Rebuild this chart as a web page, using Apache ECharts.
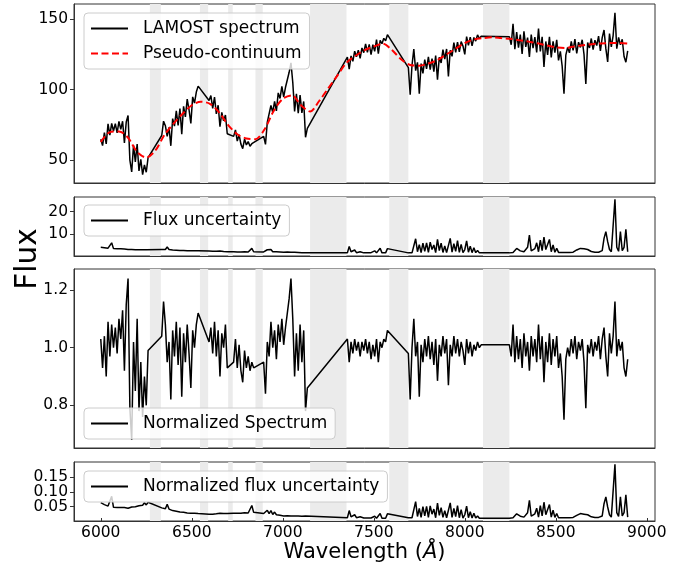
<!DOCTYPE html>
<html><head><meta charset="utf-8">
<script src="https://cdn.jsdelivr.net/npm/echarts@6/dist/echarts.min.js"></script>
<style>html,body{margin:0;padding:0;background:#fff}#c{width:695px;height:571px}</style>
</head><body><div id="c"></div>
<script>
// ---- wavelength sampling: start of each observed segment (Angstrom), 10 A steps ----
const segStart = [6000, 6335, 6595, 6730, 6895, 7355, 7690, 8245];
const step = 10;

// masked regions (grey bands)
const bands = [[6270,6330],[6545,6590],[6700,6725],[6850,6890],[7150,7350],[7585,7690],[8100,8245]];

// LAMOST spectrum flux, per segment
const lamostFlux = [
  [65,60.5,69.7,61.7,75.8,67.9,76.1,70.8,76.0,69.4,77.6,71.9,77.7,62.4,77.1,81.8,50.2,41.8,60.7,48.9,61.6,42.5,50.8,39.9,46.8,41.6,52.0],
  [67.6,77.7,74.5,67.0,73.4,60.3,79.5,74.2,85.0,74.7,86.7,68.5,88.2,80.8,93.4,85.8,76.1,94.9,90.5,98.3,102.5],
  [92.3,95.8,86.7,94.8,82.9,89.0,73.8,84.0,78.0,82.1,68.8],
  [67.0,71.6,63.7,68.2,61.5,58.3,65.1,60.9,63.3,60.0,61.8,60.5],
  [67.0,61.3,77.0,76.1,88.8,84.0,91.7,85.0,97.7,93.8,102.3,94.9,101.7,107.0,112.3,119.0,105.1,84.6,97.1,83.3,96.1,83.6,91.7,66.3,72.7],
  [123.1,114.5,123.9,120.1,127.2,123.3,128.0,122.2,129.5,126.2,132.4,126.4,132.1,124.8,131.8,127.1,135.4,125.4,134.9,132.5,136.3,134.6,138.9],
  [115.6,96.4,117.3,128.8,113.5,119.3,97.1,118.4,111.6,121.3,114.7,123.2,114.2,121.9,112.8,124.1,107.1,123.0,118.9,128.3,121.7,128.8,109.4,127.9,123.6,133.3,126.4,133.7,126.7,134.0,130.9,125.0,137.5,131.3,137.2,131.0,136.9,134.4,138.7,136.2,137.8],
  [137.4,131.8,146.6,128.7,140.7,129.7,138.9,125.3,141.2,130.3,136.8,123.2,139.0,129.4,137.2,126.4,143.3,127.1,137.4,116.0,134.1,124.6,137.4,122.8,134.2,126.2,135.2,120.7,127.1,116.6,97.1,124.4,129.8,126.1,134.1,127.8,135.8,125.6,133.6,129.9,135.3,125.0,104.1,133.3,129.5,136.2,128.3,135.0,131.2,137.9,127.4,136.8,142.2,129.0,119.7,139.7,130.3,138.3,154.3,129.0,137.0,131.7,135.6,123.5,119.4,127.5]
];

// pseudo-continuum
const contWave = [6000,6050,6100,6150,6200,6250,6300,6350,6400,6450,6500,6550,6600,6650,6700,6750,6800,6850,6900,6950,7000,7050,7100,7150,7200,7250,7300,7350,7400,7450,7500,7550,7600,7650,7700,7750,7800,7850,7900,7950,8000,8050,8100,8150,8200,8250,8300,8350,8400,8450,8500,8550,8600,8650,8700,8750,8800,8850,8895];
const contFlux = [63,70,70.5,66,56,52,57,68,76,83,89,91.5,90,84,75,68.5,65.5,65,72,85,93.5,96,89,84.5,92,101,110,119,124,128,130.5,132.5,128,121.5,117.5,117,118.5,121,125,129,133,135.5,136.5,137,136.5,136,135,134,132.8,131.3,130,129.5,130.5,131.5,132.2,132.7,133,133,132.6];

// flux uncertainty
const fluxErr = [
  [4.0,3.9,3.8,3.7,3.6,3.5,6.0,3.4,3.3,3.3,3.2,3.3,3.6,3.2,3.1,3.0,3.1,3.0,2.9,2.9,3.0,2.9,3.1,2.9,3.3,2.9,3.4],
  [3.0,2.9,3.0,4.1,3.0,2.8,2.8,2.7,2.7,2.8,2.6,2.7,2.6,2.8,2.5,2.6,2.5,2.8,2.5,2.4,2.5],
  [2.3,2.3,2.2,2.3,2.2,2.2,2.3,2.1,2.1,2.2,2.0],
  [2.0,2.0,1.9,2.0,1.9,1.9,2.0,1.9,1.9,2.0,3.5,2.0],
  [1.9,2.4,2.9,2.1,3.0,2.0,2.8,2.0,2.3,1.9,1.9,1.8,1.8,1.9,1.8,1.8,1.7,1.8,1.7,1.7,1.7,1.6,1.7,1.6,1.6],
  [1.5,4.4,2.0,1.6,2.8,1.6,1.5,2.0,1.5,1.5,2.3,1.5,1.5,1.6,1.5,2.4,1.5,1.6,3.6,1.5,1.5,1.5,3.4],
  [1.5,1.6,1.5,1.6,7.8,2.0,5.2,1.6,5.9,2.2,6.0,1.7,6.3,3.0,5.0,1.6,7.5,2.5,5.8,1.7,4.6,1.6,1.7,8.0,1.8,5.6,2.2,7.0,1.7,5.3,1.6,3.0,6.9,1.8,4.5,1.6,3.8,1.6,2.6,1.5,1.5],
  [1.5,1.6,1.7,2.2,3.5,4.0,2.4,1.8,2.0,1.7,4.0,9.5,2.4,1.8,3.4,6.0,2.0,7.2,2.5,8.6,3.0,2.2,7.5,2.0,5.0,1.8,3.5,1.7,1.6,1.7,1.6,1.7,1.6,1.7,1.9,1.8,2.2,2.8,3.3,3.5,2.9,3.3,3.5,3.0,2.4,2.1,1.9,1.8,1.9,1.8,2.0,2.5,8.0,11.0,6.5,3.0,2.0,1.8,25.5,4.0,2.2,11.0,2.5,4.0,12.0,2.0]
];

// normalized spectrum
const normFlux = [
  [1.03,0.93,1.04,0.90,1.09,0.97,1.08,1.00,1.07,0.98,1.10,1.03,1.13,0.92,1.15,1.24,0.79,0.68,1.02,0.85,1.10,0.78,0.95,0.76,0.90,0.80,0.99],
  [1.04,1.16,1.08,0.95,1.02,0.82,1.06,0.97,1.09,0.94,1.07,0.83,1.05,0.95,1.08,0.98,0.86,1.06,1.00,1.08,1.12],
  [1.02,1.07,0.98,1.09,0.97,1.06,0.90,1.05,1.00,1.08,0.93],
  [0.95,1.03,0.93,1.01,0.92,0.88,0.99,0.93,0.97,0.92,0.95,0.93],
  [0.95,0.84,1.02,0.97,1.09,1.00,1.06,0.96,1.08,1.02,1.10,1.01,1.07,1.12,1.17,1.24,1.10,0.90,1.05,0.92,1.08,0.95,1.06,0.78,0.86],
  [1.03,0.95,1.02,0.98,1.03,0.99,1.02,0.97,1.02,0.99,1.03,0.98,1.02,0.96,1.01,0.97,1.03,0.95,1.02,1.00,1.03,1.02,1.06],
  [0.98,0.82,1.00,1.10,0.97,1.02,0.83,1.01,0.95,1.03,0.97,1.04,0.96,1.02,0.94,1.03,0.885,1.01,0.97,1.04,0.98,1.03,0.87,1.01,0.97,1.04,0.98,1.03,0.97,1.02,0.99,0.94,1.03,0.98,1.02,0.97,1.01,0.99,1.02,1.00,1.01],
  [1.01,0.97,1.08,0.95,1.04,0.96,1.03,0.93,1.05,0.97,1.02,0.92,1.04,0.97,1.03,0.95,1.08,0.96,1.04,0.88,1.02,0.95,1.05,0.94,1.03,0.97,1.04,0.93,0.98,0.90,0.75,0.96,1.00,0.97,1.03,0.98,1.04,0.96,1.02,0.99,1.03,0.95,0.79,1.01,0.98,1.03,0.97,1.02,0.99,1.04,0.96,1.03,1.07,0.97,0.90,1.05,0.98,1.04,1.16,0.97,1.03,0.99,1.02,0.93,0.90,0.96]
];

// normalized flux uncertainty
const normErr = [
  [0.0635,0.060,0.057,0.054,0.052,0.050,0.085,0.048,0.046,0.047,0.045,0.047,0.052,0.047,0.046,0.045,0.049,0.049,0.049,0.050,0.054,0.053,0.058,0.055,0.063,0.056,0.065],
  [0.046,0.043,0.043,0.058,0.042,0.038,0.037,0.035,0.035,0.035,0.032,0.033,0.031,0.033,0.029,0.030,0.028,0.031,0.028,0.026,0.027],
  [0.025,0.026,0.025,0.026,0.026,0.026,0.028,0.026,0.027,0.029,0.027],
  [0.028,0.029,0.028,0.030,0.028,0.029,0.030,0.029,0.029,0.031,0.054,0.031],
  [0.027,0.033,0.038,0.027,0.037,0.024,0.032,0.023,0.025,0.021,0.020,0.019,0.019,0.020,0.019,0.019,0.018,0.019,0.018,0.019,0.019,0.018,0.020,0.019,0.019],
  [0.013,0.037,0.016,0.013,0.023,0.013,0.012,0.016,0.012,0.012,0.018,0.012,0.012,0.012,0.011,0.018,0.011,0.012,0.027,0.011,0.011,0.011,0.026],
  [0.013,0.014,0.013,0.014,0.067,0.017,0.044,0.014,0.050,0.019,0.051,0.014,0.053,0.025,0.042,0.013,0.062,0.021,0.047,0.014,0.037,0.013,0.014,0.063,0.014,0.044,0.017,0.054,0.013,0.040,0.012,0.023,0.052,0.013,0.033,0.012,0.028,0.012,0.019,0.011,0.011],
  [0.011,0.012,0.013,0.016,0.026,0.030,0.018,0.013,0.015,0.013,0.030,0.071,0.018,0.013,0.026,0.045,0.015,0.054,0.019,0.065,0.023,0.017,0.057,0.015,0.038,0.014,0.027,0.013,0.012,0.013,0.012,0.013,0.012,0.013,0.015,0.014,0.017,0.021,0.025,0.027,0.022,0.025,0.027,0.023,0.018,0.016,0.014,0.014,0.014,0.014,0.015,0.019,0.060,0.083,0.049,0.023,0.015,0.014,0.192,0.030,0.017,0.083,0.019,0.030,0.090,0.015]
];

// axis ticks
const xTicks = [6000,6500,7000,7500,8000,8500,9000];
const yTicks = [[50,100,150],[10,20],[0.8,1.0,1.2],[0.05,0.10,0.15]];
const yRanges = [[34,160.6],[0.1,26.5],[0.652,1.273],[0.002,0.2]];
const yDigits = [0,0,1,2];
const xRange = [5853,9045];

function build(segs){
  const out=[];
  segs.forEach((vals,s)=>vals.forEach((v,i)=>out.push([segStart[s]+i*step, v])));
  return out;
}

const FONT = 'DejaVu Sans';
const LEFT = 74;
const gridBoxes = [[4,179],[197,59],[269,179],[462,59]];
const grids = gridBoxes.map(g=>({left:LEFT,right:40,top:g[0],height:g[1],show:true,borderColor:'#333',borderWidth:1,backgroundColor:'transparent'}));

const xAxes = gridBoxes.map((g,i)=>({
  type:'value', gridIndex:i, min:xRange[0], max:xRange[1],
  axisLine:{show:true,lineStyle:{color:'#333',width:1}},
  splitLine:{show:false},
  axisTick:{show:i===3,inside:true,length:3,customValues:xTicks,lineStyle:{color:'#333'}},
  axisLabel:{show:i===3,customValues:xTicks,margin:4,fontSize:15.5,fontFamily:FONT,color:'#000',formatter:v=>String(v)},
  name: i===3 ? 'Wavelength ({it|Å})' : '',
  nameLocation:'middle', nameGap:19,
  nameTextStyle:{fontSize:21,fontFamily:FONT,color:'#000',rich:{it:{fontStyle:'italic',fontSize:21,fontFamily:FONT,color:'#000'}}}
}));

// the bottom panel's labels are tightly packed: drawn below as graphic texts at scale positions
const yAxes = gridBoxes.map((g,i)=>({
  type:'value', gridIndex:i, min:yRanges[i][0], max:yRanges[i][1],
  axisLine:{show:true,lineStyle:{color:'#333',width:1}},
  splitLine:{show:false},
  axisTick:{show:true,inside:false,length:4,customValues:yTicks[i],lineStyle:{color:'#333'}},
  axisLabel:{show:i!==3,customValues:yTicks[i],margin:6,fontSize:15.5,fontFamily:FONT,color:'#000',
    formatter:v=>Number(v).toFixed(yDigits[i])}
}));

const lineBase = {type:'line',symbol:'none',showSymbol:false,animation:false,z:3};
const series = [];
for(let i=0;i<4;i++){
  series.push({type:'line',xAxisIndex:i,yAxisIndex:i,data:[],z:1,silent:true,animation:false,
    markArea:{silent:true,itemStyle:{color:'#ebebeb'},data:bands.map(b=>[{xAxis:b[0]},{xAxis:b[1]}])}});
}
series.push(Object.assign({},lineBase,{name:'LAMOST spectrum',xAxisIndex:0,yAxisIndex:0,data:build(lamostFlux),lineStyle:{color:'#000',width:1.5},itemStyle:{color:'#000'}}));
series.push(Object.assign({},lineBase,{name:'Pseudo-continuum',xAxisIndex:0,yAxisIndex:0,z:4,smooth:0.3,
  data:contWave.map((w,k)=>[w,contFlux[k]]),lineStyle:{color:'#ff0000',width:2,type:[7,3.5]},itemStyle:{color:'#ff0000'}}));
series.push(Object.assign({},lineBase,{name:'Flux uncertainty',xAxisIndex:1,yAxisIndex:1,data:build(fluxErr),lineStyle:{color:'#000',width:1.5},itemStyle:{color:'#000'}}));
series.push(Object.assign({},lineBase,{name:'Normalized Spectrum',xAxisIndex:2,yAxisIndex:2,data:build(normFlux),lineStyle:{color:'#000',width:1.5},itemStyle:{color:'#000'}}));
series.push(Object.assign({},lineBase,{name:'Normalized flux uncertainty',xAxisIndex:3,yAxisIndex:3,data:build(normErr),lineStyle:{color:'#000',width:1.5},itemStyle:{color:'#000'}}));

const legendCommon = {orient:'vertical',left:84,itemWidth:37,itemHeight:12,itemGap:6,padding:[6,8,6,6],
  backgroundColor:'rgba(255,255,255,0.8)',borderColor:'#cccccc',borderWidth:1,borderRadius:4,selectedMode:false,
  itemStyle:{opacity:0,color:'transparent',borderWidth:0},
  textStyle:{fontSize:17,fontFamily:FONT,color:'#000',lineHeight:19,padding:[0,0,0,10]}};
const legends = [
  Object.assign({},legendCommon,{top:13,data:['LAMOST spectrum','Pseudo-continuum']}),
  Object.assign({},legendCommon,{top:205,data:['Flux uncertainty']}),
  Object.assign({},legendCommon,{top:408,data:['Normalized Spectrum']}),
  Object.assign({},legendCommon,{top:471,data:['Normalized flux uncertainty']})
];

const chart = echarts.init(document.getElementById('c'));
chart.setOption({
  animation:false,
  backgroundColor:'#fff',
  grid:grids, xAxis:xAxes, yAxis:yAxes, series:series, legend:legends
});

// graphic texts: y-label "Flux" and the bottom panel tick labels (positions from the axis scale)
const graphics = [{type:'text',x:28,y:259,rotation:Math.PI/2,
  style:{text:'Flux',fontSize:29.5,fontFamily:FONT,fill:'#000',align:'center',verticalAlign:'middle'}}];
yTicks[3].forEach(v=>{
  const p = chart.convertToPixel({gridIndex:3},[xRange[0], v]);
  graphics.push({type:'text',x:LEFT-6,y:p[1],
    style:{text:v.toFixed(2),fontSize:15.5,fontFamily:FONT,fill:'#000',align:'right',verticalAlign:'middle'}});
});
chart.setOption({graphic:graphics});
</script></body></html>
